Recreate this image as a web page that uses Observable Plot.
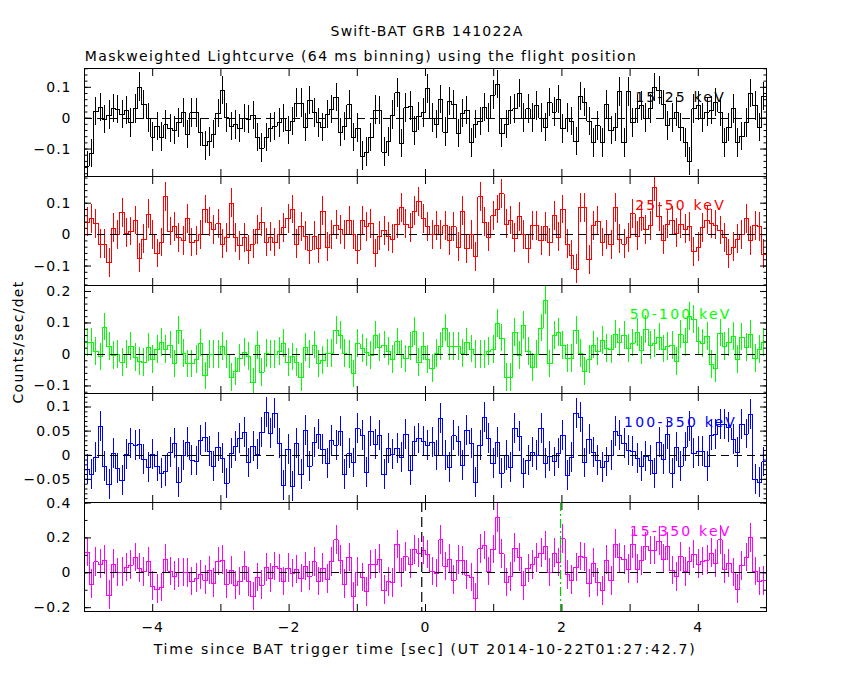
<!DOCTYPE html>
<html><head><meta charset="utf-8">
<script src="https://cdn.jsdelivr.net/npm/d3@7"></script>
<script src="https://cdn.jsdelivr.net/npm/@observablehq/plot@0.6"></script>
<style>
body{margin:0;background:#fff;}
#fig{position:relative;width:850px;height:680px;background:#fff;font-family:"DejaVu Sans",sans-serif;font-size:14px;letter-spacing:1px;color:#000;overflow:hidden}
.t{position:absolute;white-space:nowrap;transform:translate(-50%,-50%);line-height:1;}
.panel{position:absolute;left:0;}
</style></head><body><div id="fig"></div>
<script>
// ---- data (64 ms bins, first bin starts at -4.992 s) ----
const binWidth = 0.064;
const binStart = -4.992;
const bands = ["15-25 keV", "25-50 keV", "50-100 keV", "100-350 keV", "15-350 keV"];
const colors = ["#000000", "#ff0000", "#00ff00", "#0000ff", "#ff00ff"];

const rate15_25 = [
-0.155,-0.114,0.022,0.034,-0.004,0.01,0.031,0.028,0.012,0.024,-0.015,0.03,0.101,0.044,0,-0.061,-0.027,-0.061,-0.022,-0.034,
-0.039,-0.015,0.017,-0.052,0.017,0.017,-0.047,-0.09,-0.077,-0.053,0.016,0.089,0.001,-0.026,-0.022,-0.034,-0.002,-0.004,0.009,-0.062,
-0.097,-0.062,-0.032,-0.026,-0.015,-0.001,-0.04,-0.01,0.049,0.049,-0.031,0.058,0.017,-0.015,-0.03,0.012,0.028,0.067,-0.047,-0.026,
0.043,-0.062,-0.032,-0.123,-0.11,-0.063,0.026,0.025,-0.11,-0.077,0.01,0.082,-0.082,0.033,0.039,-0.042,0.006,0.017,
0.095,0,-0.02,0.06,-0.045,0.055,0.045,-0.05,0.015,0.025,-0.08,-0.02,-0.01,0.035,0,0.075,0.11,-0.05,-0.02,0.025,
0.03,0.08,0,0.03,0,0.04,0,-0.03,0.05,0.02,0.06,-0.035,0,-0.01,-0.075,0.07,0.05,-0.01,-0.08,-0.025,
-0.08,0.045,-0.04,-0.03,0.085,-0.08,0.085,-0.015,0.03,0.04,0,0.03,0.1,0.09,0.045,-0.025,0,0.02,-0.03,-0.08,
-0.14,0.03,0.04,0,0.02,0.025,0.05,0.02,-0.08,-0.03,0.03,-0.08,-0.06,-0.015,0.08,0.04,-0.03,0.07];

const rate25_50 = [
0.04,0.05,0.035,-0.03,-0.03,-0.09,0.02,0,0.07,0.005,0.01,0.045,-0.075,-0.015,0.065,0,-0.06,-0.025,0.12,0.01,
0.025,-0.01,-0.02,0.05,-0.025,-0.02,0,0.08,0.04,0.015,0.035,-0.03,-0.01,0.1,-0.01,-0.035,-0.01,-0.05,-0.03,0.015,
0.04,-0.025,-0.008,-0.025,0,0.022,0.05,0.08,-0.03,0.025,-0.005,-0.05,-0.005,-0.045,0.075,-0.04,0,0.03,0.015,0,
0.045,0,-0.05,0.045,0.025,0.035,-0.06,-0.005,0.012,-0.007,-0.015,0.033,0.085,0.033,0.022,0.075,0.105,0.05,
0.025,0,0.028,0,0.028,-0.02,0.025,-0.04,0.075,-0.045,0,-0.07,0.12,0.04,-0.008,0.06,0.08,0.13,0.033,0.045,
-0.012,0.057,0,-0.045,0.028,0.028,-0.02,0.025,-0.025,0.06,-0.008,0.08,-0.03,-0.065,-0.11,0.085,0.085,-0.08,0.028,0.042,
-0.025,0,-0.033,0.085,-0.015,-0.03,-0.01,0.067,-0.005,0.055,0.015,0.028,0.15,0.057,-0.018,0.033,0.045,0.005,0.033,0.017,
0.025,-0.055,-0.04,0.022,0.045,0.035,0.03,0.013,-0.01,-0.062,-0.04,-0.015,0,0.05,-0.02,0.028,0.025,-0.062];

const rate50_100 = [
0.038,0.038,0.01,-0.008,0.087,0.025,-0.004,0,-0.025,0,0.025,-0.01,-0.022,-0.025,0.022,-0.017,0.015,0.038,0.015,0.03,
-0.03,0.077,0.004,-0.03,-0.03,-0.017,0.036,-0.068,0,0,0,0.025,0,-0.073,-0.054,-0.012,0.006,-0.006,-0.09,0.029,
-0.057,0.002,0,0,0.01,0.034,-0.025,-0.008,-0.025,-0.073,0.022,0,0.03,-0.03,-0.019,0.004,0.004,0.075,0.06,0.004,
0,-0.062,0.034,0.02,0.006,-0.004,0.06,0.023,0.03,0.01,-0.015,0.04,0,-0.014,0.025,0.073,-0.025,0.025,
-0.015,-0.044,0.004,0.025,0.084,0.025,0.025,0.025,0.002,0.038,0.017,0,0,0,0.01,0.015,0.098,0.052,-0.073,-0.073,
0.07,-0.004,0.093,0.01,-0.041,0,0.084,0.172,-0.03,0.06,0.07,0.028,-0.012,-0.012,0.077,0.004,-0.054,-0.017,0.03,0.01,
0.045,0.02,0.015,0.063,0.038,0.06,0.02,0.036,0.07,0.013,0.08,0.028,0.034,0.055,0.017,0.025,0.028,-0.022,0.063,0.038,
0.12,0.11,0.041,0.034,0.057,-0.033,-0.044,0.068,0.025,0.038,0.057,-0.017,0.055,0.023,0.063,-0.012,0.015,0.038];

const rate100_350 = [
-0.03,-0.04,-0.005,0.06,-0.024,-0.061,0.003,-0.028,-0.053,0.001,0.024,0.021,0.022,-0.009,-0.025,0.001,-0.023,-0.037,-0.033,0.005,
0.024,-0.056,0,0.026,-0.01,-0.012,0.03,0.037,0.007,-0.023,0.017,-0.007,-0.058,0.003,0.019,0.035,0.047,-0.016,0.019,0.001,
0.047,0.088,0.045,0.086,0.024,-0.063,0.012,-0.065,0.024,-0.04,0.051,-0.023,0.026,0.043,0.012,-0.017,0.03,0.021,0.05,-0.04,
0.003,-0.016,0.055,0.04,-0.035,0.049,0.022,0.04,-0.04,0.014,0.001,0.014,-0.004,0.043,-0.032,0.029,0.035,0.028,
0.021,0.026,0,0.076,0,-0.025,0.04,0.029,-0.021,0.051,0.024,-0.056,0.021,0.079,0.035,-0.018,0.026,-0.037,0,-0.025,
0.056,0.038,-0.037,-0.011,0.005,0,0.056,-0.018,-0.002,-0.014,0.003,0.041,-0.042,-0.004,0.086,0.078,-0.016,0.033,0.005,-0.011,
-0.025,-0.014,0,0.05,0.041,0.024,0.01,0.008,-0.007,-0.023,-0.002,-0.011,-0.037,0.026,-0.009,0.043,-0.037,0.017,-0.023,0.017,
0.06,0.003,0.008,0.007,-0.023,0.04,0.043,0.064,0.064,0.057,0.033,0.005,0.063,0.044,0.085,-0.051,-0.056,-0.014];

const rate15_350 = [
0.117,-0.065,0.062,0.05,0.073,-0.129,0.05,0.002,0.004,0.03,0.044,0.088,0.027,0.006,0.062,-0.077,-0.094,-0.085,0.079,0.008,
-0.019,0,0.002,0,-0.05,-0.031,-0.012,-0.042,0.012,-0.06,0.065,0.073,-0.065,0.012,-0.073,-0.05,0.038,-0.052,-0.137,-0.027,
-0.071,0.031,-0.031,0.035,0.025,-0.05,0.027,-0.004,0.019,-0.033,0.035,-0.019,0.062,-0.05,0.027,-0.037,0.062,0.188,0.073,-0.065,
0.088,-0.138,0.004,-0.027,-0.11,0.046,0.05,0.079,-0.1,-0.052,-0.058,0.162,0,0.092,0.05,0.131,0.113,0.127,
0.104,0.008,-0.004,0.188,0.037,0.079,-0.042,0.073,0.069,-0.013,-0.027,-0.146,0.137,0.156,0.008,0.133,0.315,0.108,-0.056,-0.023,
0.142,0.088,-0.075,0.025,0.046,0.085,0.112,0.152,0.002,0.113,0.06,0.194,-0.012,-0.042,0.031,0.094,0.088,-0.062,0.056,-0.056,
-0.104,0.073,-0.046,0.165,0.085,0.075,0.021,0.165,0.021,0.069,0.15,0.127,0.127,0.181,0.079,0.15,0.012,-0.023,0.092,0.006,
0.065,0.104,0.05,0.065,0.073,0.113,0.054,0.188,0.021,0.054,0.002,-0.094,0.04,0.088,0.2,0.008,-0.05,-0.046];

const rates = [rate15_25, rate25_50, rate50_100, rate100_350, rate15_350];
const errors = [0.046, 0.046, 0.044, 0.031, 0.082];          // typical 1-sigma per band

// ---- axes ----
const yDomains = [[-0.189, 0.161], [-0.162, 0.185], [-0.124, 0.219], [-0.098, 0.128], [-0.222, 0.403]];
const yMajor = [[-0.1, 0, 0.1], [-0.1, 0, 0.1], [-0.1, 0, 0.1, 0.2], [-0.05, 0, 0.05, 0.1], [-0.2, 0, 0.2, 0.4]];
const yMinorStep = [0.02, 0.02, 0.02, 0.01, 0.1];
const xDomain = [-5, 5];
const xTicks = [-4, -3, -2, -1, 0, 1, 2, 3, 4];
const xTickLabels = [-4, -2, 0, 2, 4];
const bandLabelX = 3.74;
const markerStart = -0.055, markerEnd = 1.98;

const titleText = "Swift-BAT GRB 141022A";
const subtitleText = "Maskweighted Lightcurve (64 ms binning) using the flight position";
const yLabelText = "Counts/sec/det";
const xLabelText = "Time since BAT trigger time [sec] (UT 2014-10-22T01:27:42.7)";

// ---- layout ----
const panelTops = [68, 176, 285, 393, 502];
const panelHeights = [108, 109, 108, 109, 109];

const fmt = d => d === 0 ? "0" : (d < 0 ? "\u2212" : "") + String(Math.abs(d));
const minorTicks = (dom, step) => d3.range(Math.ceil(dom[0] / step), Math.floor(dom[1] / step) + 1).map(i => +(i * step).toFixed(4));

const fig = document.getElementById("fig");
function addText(txt, x, y, extra) {
  const d = document.createElement("div");
  d.className = "t"; d.textContent = txt;
  d.style.left = x + "px"; d.style.top = y + "px";
  if (extra) Object.assign(d.style, extra);
  fig.appendChild(d);
}
addText(titleText, 427, 31, {letterSpacing: "1.2px"});
addText(subtitleText, 361, 56, {letterSpacing: "1.35px"});
addText(xLabelText, 425, 649, {letterSpacing: "1.75px"});
addText(yLabelText, 18, 342, {transform: "translate(-50%,-50%) rotate(-90deg)", letterSpacing: "1.3px"});

rates.forEach((vals, i) => {
  const rows = vals.map((v, k) => ({t: binStart + k * binWidth, v}));
  const stepRows = rows.concat([{t: binStart + vals.length * binWidth, v: vals[vals.length - 1]}]);
  const err = errors[i];
  const col = colors[i];
  const minor = minorTicks(yDomains[i], yMinorStep[i]);
  const marks = [
    Plot.line(stepRows, {x: "t", y: "v", curve: "step-after", stroke: col, strokeWidth: 1, shapeRendering: "crispEdges", clip: true}),
    Plot.ruleX(rows, {x: d => d.t + binWidth / 2, y1: d => d.v - err, y2: d => d.v + err, stroke: col, strokeWidth: 1, shapeRendering: "crispEdges", clip: true}),
    Plot.ruleY([0], {stroke: "black", strokeWidth: 1, strokeDasharray: "8,5", shapeRendering: "crispEdges"}),
    Plot.text([bands[i]], {x: () => bandLabelX, frameAnchor: "top", dy: 29, fill: col, textAnchor: "middle", lineAnchor: "middle", fontSize: 14}),
    Plot.frame({stroke: "black", strokeWidth: 1, shapeRendering: "crispEdges"}),
    Plot.axisY(yMajor[i], {anchor: "left", tickSize: 0, tickPadding: 13, tickFormat: fmt, label: null}),
    Plot.axisY(yMajor[i], {anchor: "left", tickSize: -7, fill: "none", label: null}),
    Plot.axisY(minor, {anchor: "left", tickSize: -3.5, fill: "none", label: null}),
    Plot.axisY(yMajor[i], {anchor: "right", tickSize: -7, fill: "none", label: null}),
    Plot.axisY(minor, {anchor: "right", tickSize: -3.5, fill: "none", label: null}),
    Plot.axisX(xTicks, {anchor: "top", tickSize: -7, fill: "none", label: null}),
    Plot.axisX(xTicks, {anchor: "bottom", tickSize: -7, fill: "none", label: null})
  ];
  if (i === rates.length - 1) {
    marks.push(Plot.ruleX([markerStart], {stroke: "black", strokeWidth: 1.2, strokeDasharray: "10,5"}));
    marks.push(Plot.ruleX([markerEnd], {stroke: "#00cc00", strokeWidth: 1.2, strokeDasharray: "9,3,2,3"}));
    marks.push(Plot.axisX(xTickLabels, {anchor: "bottom", tickSize: 0, tickPadding: 11, tickFormat: fmt, label: null}));
  }
  const chart = Plot.plot({
    width: 850, height: panelHeights[i],
    marginLeft: 84, marginRight: 84, marginTop: 0, marginBottom: 0,
    style: {background: "transparent", overflow: "visible", fontFamily: "DejaVu Sans", fontSize: "14px", letterSpacing: "1px", color: "black"},
    x: {domain: xDomain, axis: null},
    y: {domain: yDomains[i], axis: null},
    marks
  });
  // wider glyph spacing for the in-panel band label (PGPLOT-like)
  d3.select(chart).selectAll('g[aria-label="text"] text').style("letter-spacing", "2.2px");
  chart.classList.add("panel");
  chart.style.top = panelTops[i] + "px";
  fig.appendChild(chart);
});
</script></body></html>
